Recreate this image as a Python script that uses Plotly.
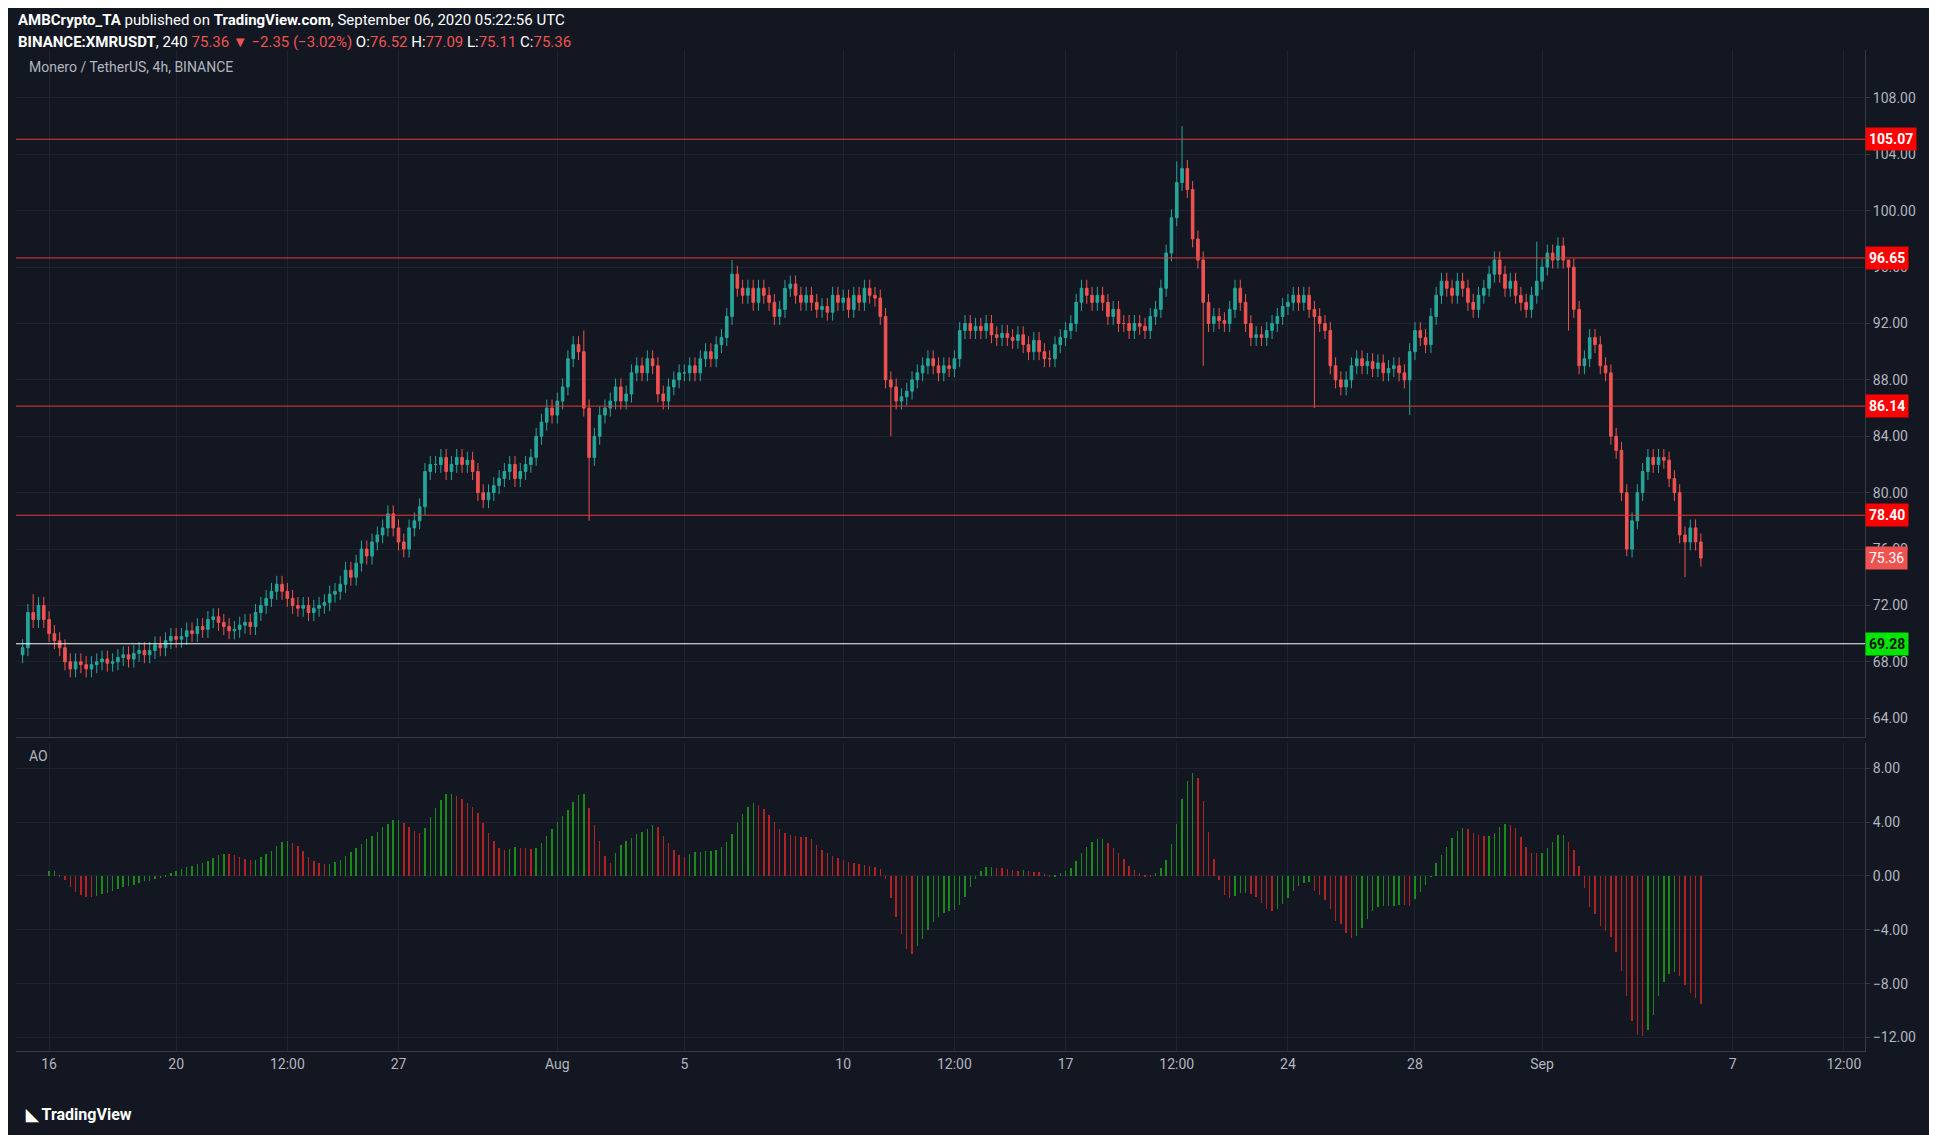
import plotly.graph_objects as go
from plotly.subplots import make_subplots
import pandas as pd

closes = [
69,71.5,71,72,71,70, 69.5,69,68,67.5,68,67.8, 67.5,67.8,68,68.2,67.9,68,
68.3,68.5,68.2,68.6,68.8,68.5, 68.8,69.2,69,69.5,69.8,69.6, 69.8,70.2,70,70.5,70.3,71,
71.2,70.8,70.5,70.2,70.3,70.6, 70.8,70.5,71.5,72,72.5,73, 73.5,73,72.5,72,71.8,72,
71.5,71.8,72,72.2,72.8,73, 73.5,74.5,74,75,76,75.5, 76.5,77,77.5,78.5,77.5,76.5,
76,77.5,78,79,81.5,82, 82,82.5,81.5,82,82.5,82, 82.3,81.5,80,79.5,80,80.5,
81,81.5,82,81,81.5,82, 82.5,84,85,86,85.5,86.5, 87.5,89.5,90.5,90,86,82.5,
84,85.5,86,86.5,87.5,86.5, 87,88.5,89,88.5,89.5,89, 87,86.5,87.5,88,88.5,88.5,
89,88.5,89.5,90,89.5,90.5, 91,92.5,95.5,94.5,94,94.5, 93.5,94.5,94,93.5,92.5,93,
94.5,94.8,94,93.5,94,93.5, 93,93.2,92.8,94,93.5,93.8, 93,94,93.5,94.5,94,93.8,
92.5,88,87.5,86.5,86.8,87.2, 88,88.5,89,89.5,89,88.5, 89,88.8,89.5,91.5,92,91.5,
91.8,91.5,92,91.2,91,91.3, 91,90.8,91.2,90.5,90,90.8, 90,89.5,89.5,90.5,91,91.5,
92,93.5,94.5,94,93.5,94, 93.5,92.5,93,92,92,91.5, 92,91.8,91.5,92.5,93,94.5,
97,99.5,102,103,101.5,98, 96.5,93.5,92,92.5,92.2,92, 93,94.5,93.5,92,91,91.2,
91,91.5,92,92.5,93.2,93.5, 94,93.5,94,93,92.5,92, 91.5,89,88,87.5,88,89,
89.5,89,89.3,88.8,89.2,88.5, 88.8,89,88.5,88,90,91.5, 91,90.5,92.5,94,95,94.5,
94,95,94.5,93.5,93,94, 94.5,95.5,96.5,95.5,94.5,95, 94,93.5,93,94,95,96,
97,96.5,97.5,96.5,96,93, 89,89.5,91,90.5,89,88.5, 84,83,80,76,78,80,
81.5,82.5,82,82.5,82.3,81, 80,77,76.5,77.5,76.5,75.36]
first_open = 68.5
spike_highs = {2: 72.8, 106: 91.5, 134: 96.5, 218: 103.5, 219: 106, 286: 97.8, 292: 91.5}
spike_lows = {107: 78, 164: 84, 223: 89, 244: 86, 262: 85.5, 303: 75.5, 314: 74}
levels = [105.07, 96.65, 86.14, 78.40]
support = 69.28
tick_dates = ["2020-07-16","2020-07-20","2020-07-23 12:00","2020-07-27","2020-08-01","2020-08-05",
              "2020-08-10","2020-08-13 12:00","2020-08-17","2020-08-20 12:00","2020-08-24","2020-08-28",
              "2020-09-01","2020-09-07","2020-09-10 12:00"]
tick_text = ["16","20","12:00","27","Aug","5","10","12:00","17","12:00","24","28","Sep","7","12:00"]

n = len(closes)
times = pd.date_range("2020-07-15 04:00", periods=n, freq="4h")
opens = [first_open] + closes[:-1]
highs = [spike_highs.get(i, max(o, c) + 0.6) for i, (o, c) in enumerate(zip(opens, closes))]
lows = [spike_lows.get(i, min(o, c) - 0.6) for i, (o, c) in enumerate(zip(opens, closes))]
med = pd.Series([(h + l) / 2 for h, l in zip(highs, lows)])
ao = (med.rolling(5, min_periods=1).mean() - med.rolling(34, min_periods=1).mean()).tolist()
ao_col = ["#1b8a1b" if i == 0 or ao[i] >= ao[i-1] else "#b22222" for i in range(n)]

fig = make_subplots(rows=2, cols=1, shared_xaxes=True, vertical_spacing=0.006, row_heights=[0.69, 0.31])
fig.add_trace(go.Candlestick(x=times, open=opens, high=highs, low=lows, close=closes,
    increasing=dict(line=dict(color="#26a69a", width=1), fillcolor="#26a69a"),
    decreasing=dict(line=dict(color="#ef5350", width=1), fillcolor="#ef5350"),
    whiskerwidth=0, showlegend=False), row=1, col=1)
fig.add_trace(go.Bar(x=times, y=ao, marker=dict(color=ao_col, line_width=0), width=1.2e6, showlegend=False), row=2, col=1)

for lv in levels:
    fig.add_hline(y=lv, line=dict(color="#e53935", width=1), row=1, col=1)
    fig.add_annotation(x=1.0, xref="paper", y=lv, yref="y", text=f"<b>{lv:.2f}</b>", showarrow=False,
        xanchor="left", bgcolor="#f00", font=dict(color="white", size=14), borderpad=3)
fig.add_hline(y=support, line=dict(color="#ffffff", width=1), row=1, col=1)
fig.add_annotation(x=1.0, xref="paper", y=support, yref="y", text=f"<b>{support:.2f}</b>", showarrow=False,
    xanchor="left", bgcolor="#00e600", font=dict(color="#111", size=14), borderpad=3)
fig.add_annotation(x=1.0, xref="paper", y=closes[-1], yref="y", text=f"{closes[-1]:.2f}", showarrow=False,
    xanchor="left", bgcolor="#ef5350", font=dict(color="white", size=14), borderpad=3)

grid = "#1f2330"
fig.update_xaxes(showgrid=True, gridcolor=grid, tickvals=tick_dates, ticktext=tick_text,
    range=["2020-07-14 23:00", "2020-09-11 04:00"], rangeslider_visible=False,
    tickfont=dict(color="#b2b5be", size=14), linecolor="#363a45", showline=True, zeroline=False)
fig.update_xaxes(showticklabels=False, row=1, col=1)
fig.update_yaxes(side="right", showgrid=True, gridcolor=grid, tickfont=dict(color="#b2b5be", size=14),
    zeroline=False, showline=True, linecolor="#363a45", ticks="outside", ticklen=4, tickcolor="#363a45")
fig.update_yaxes(range=[62.7, 111.4], tickvals=list(range(64, 112, 4)), tickformat=".2f", row=1, col=1)
fig.update_yaxes(range=[-13.0, 9.9], tickvals=[-12, -8, -4, 0, 4, 8], tickformat=".2f", row=2, col=1)

hdr = [
    (1.030, "<b>AMBCrypto_TA</b> published on <b>TradingView.com</b>, September 06, 2020 05:22:56 UTC"),
    (1.008, "<b>BINANCE:XMRUSDT</b>, 240 <span style='color:#ef5350'>75.36 ▼ −2.35 (−3.02%)</span> O:<span style='color:#ef5350'>76.52</span> H:<span style='color:#ef5350'>77.09</span> L:<span style='color:#ef5350'>75.11</span> C:<span style='color:#ef5350'>75.36</span>"),
]
for y, t in hdr:
    fig.add_annotation(x=0.0, y=y, xref="paper", yref="paper", text=t, showarrow=False, xanchor="left",
        yanchor="middle", font=dict(color="white", size=15))
fig.add_annotation(x=0.006, y=0.993, xref="paper", yref="paper", text="Monero / TetherUS, 4h, BINANCE",
    showarrow=False, xanchor="left", yanchor="top", font=dict(color="#b2b5be", size=14))
fig.add_annotation(x=0.006, y=0.305, xref="paper", yref="paper", text="AO",
    showarrow=False, xanchor="left", yanchor="top", font=dict(color="#b2b5be", size=14))
fig.add_annotation(x=0.004, y=-0.075, xref="paper", yref="paper", text="<b>◣ TradingView</b>",
    showarrow=False, xanchor="left", font=dict(color="white", size=16))

fig.update_layout(paper_bgcolor="#131722", plot_bgcolor="#131722", bargap=0,
    margin=dict(l=8, r=80, t=42, b=92), font=dict(family="Roboto"),
    width=1937, height=1135)
fig.write_html("out.html")
